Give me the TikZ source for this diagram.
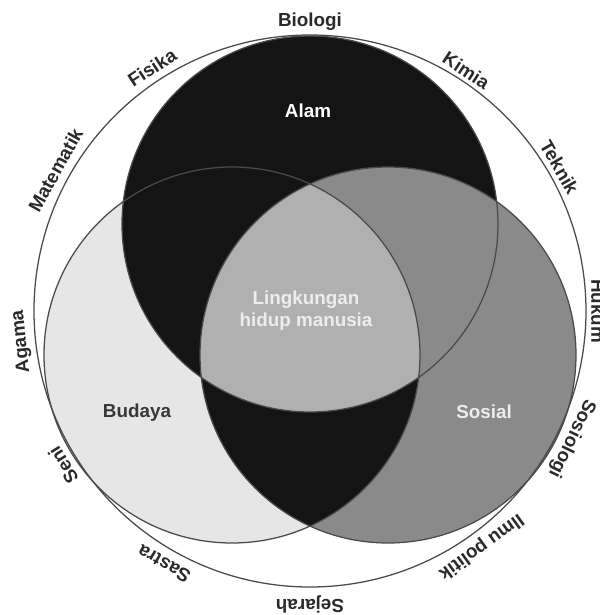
\documentclass[tikz,border=0pt]{standalone}
\usepackage{fontspec}
\setmainfont{Liberation Sans}
\usepackage{xcolor}
\usepackage{tikz}
\usetikzlibrary{positioning,calc}
\definecolor{alamfill}{HTML}{141414}
\definecolor{budayafill}{HTML}{E6E6E6}
\definecolor{sosialfill}{HTML}{8A8A8A}
\definecolor{corefill}{HTML}{B0B0B0}
\definecolor{edge}{HTML}{4A4A4A}
\definecolor{rimtext}{HTML}{2A2A2A}
\tikzset{
  ring/.style={draw=edge, line width=0.9pt},
  field/.style={font=\bfseries\fontsize{13.4}{15.5}\selectfont, align=center, inner sep=0pt},
  rim/.style={font=\bfseries\fontsize{13.4}{15.5}\selectfont, text=rimtext, inner sep=0pt},
}
\newcommand{\vr}{188}

\begin{document}
\begin{tikzpicture}[x=0.25mm, y=0.25mm]
  \useasboundingbox (-310,-304) rectangle (290,311);
  \coordinate (cOuter) at (0,0);
  \coordinate (cAlam) at (0,87);
  \coordinate (cBudaya) at (-78,-44);
  \coordinate (cSosial) at (78,-44);
  % filled circles
  \fill[budayafill] (cBudaya) circle[radius=\vr];
  \fill[alamfill] (cAlam) circle[radius=\vr];
  \fill[sosialfill] (cSosial) circle[radius=\vr];
  \begin{scope}
    \clip (cBudaya) circle[radius=\vr];
    \fill[alamfill] (cSosial) circle[radius=\vr];
    \clip (cSosial) circle[radius=\vr];
    \fill[corefill] (cAlam) circle[radius=\vr];
  \end{scope}
  % outlines
  \draw[ring] (cBudaya) circle[radius=\vr];
  \draw[ring] (cAlam) circle[radius=\vr];
  \draw[ring] (cSosial) circle[radius=\vr];
  \draw[ring] (cOuter) circle[radius=276];
  % field names
  \node[field, text=white] (alam) at (-2,200) {Alam};
  \node[field, text=white!93!black] (core) at (-4,0) {Lingkungan\\hidup manusia};
  \node[field, text=black!78] (budaya) at (-173,-102) {Budaya};
  \node[field, text=white!93!black] (sosial) at (174,-101) {Sosial};
  % disciplines round the rim
  \node[rim, rotate=0] (biologi) at (90:289) {Biologi};
  \node[rim, rotate=33] (fisika) at (123:290) {Fisika};
  \node[rim, rotate=61] (matematik) at (151:291) {Matematik};
  \node[rim, rotate=96] (agama) at (186:290) {Agama};
  \node[rim, rotate=122] (seni) at (212:291) {Seni};
  \node[rim, rotate=150] (sastra) at (240:292) {Sastra};
  \node[rim, rotate=180] (sejarah) at (270:293) {Sejarah};
  \node[rim, rotate=216] (politik) at (306:291) {Ilmu politik};
  \node[rim, rotate=244] (sosiologi) at (334:291) {Sosiologi};
  \node[rim, rotate=-90] (hukum) at (0:288) {Hukum};
  \node[rim, rotate=-60] (teknik) at (30:288) {Teknik};
  \node[rim, rotate=-33] (kimia) at (57:287) {Kimia};
\end{tikzpicture}
\end{document}
